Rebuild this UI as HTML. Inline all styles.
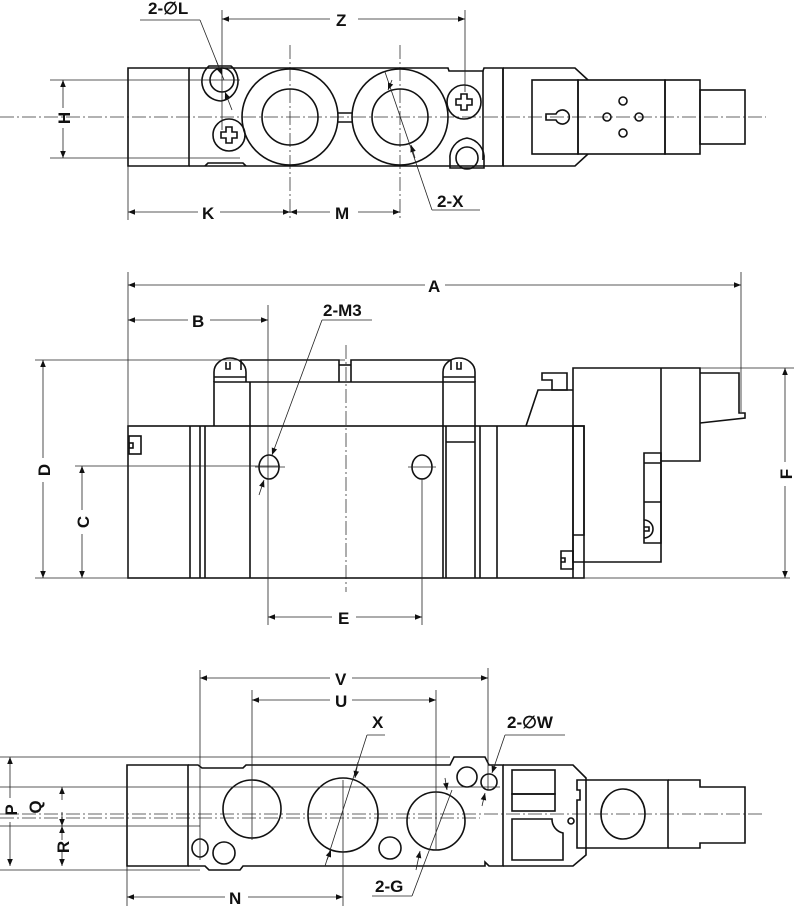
<!DOCTYPE html>
<html><head><meta charset="utf-8"><style>
html,body{margin:0;padding:0;background:#fff}
svg{display:block}
text{font-family:"Liberation Sans",sans-serif;font-weight:bold;font-size:17px;fill:#111}
.o{fill:none;stroke:#111;stroke-width:1.6}
.t{fill:none;stroke:#222;stroke-width:0.8}
.c{fill:none;stroke:#333;stroke-width:0.8;stroke-dasharray:14 3 2 3}
</style></head><body>
<svg width="794" height="906" viewBox="0 0 794 906" xmlns="http://www.w3.org/2000/svg">
<defs>
<marker id="a" viewBox="0 0 10 10" refX="10" refY="5" markerWidth="9" markerHeight="7" orient="auto-start-reverse" markerUnits="userSpaceOnUse"><path d="M0,1 L10,5 L0,9 z" fill="#111"/></marker>
</defs>

<!-- ===== TOP VIEW ===== -->
<line class="c" x1="0" y1="117" x2="766" y2="117"/>
<line class="c" x1="290" y1="45" x2="290" y2="220"/>
<line class="c" x1="400" y1="45" x2="400" y2="220"/>
<path class="o" d="M128,68 H189 V166 H128 Z"/>
<path class="o" d="M189,68 H448 L449,71 H483 L484,68 H503 V166 H189"/>
<path class="o" d="M205,166 l3,-3 h35 l3,3"/>
<path class="o" d="M483,71 V160"/>
<line class="o" x1="503" y1="68" x2="503" y2="166"/>
<path class="o" d="M503,68 H575 L588,80 M503,166 H575 L588,154"/>
<rect class="o" x="532" y="80" width="46" height="74"/>
<rect class="o" x="578" y="80" width="87" height="74"/>
<rect class="o" x="665" y="80" width="35" height="74"/>
<rect class="o" x="700" y="90" width="45" height="54"/>
<circle class="o" cx="290" cy="117" r="48"/><circle class="o" cx="290" cy="117" r="28"/>
<circle class="o" cx="400" cy="117" r="48"/><circle class="o" cx="400" cy="117" r="28"/>
<path class="o" d="M338,113 H352 M338,122 H352"/>
<!-- ears -->
<path class="o" d="M205,92 a20,20 0 0 1 4,-26 h22 a20,20 0 0 1 -10,35 a20,20 0 0 1 -16,-9 z" fill="#fff"/>
<circle class="o" cx="222" cy="80" r="12"/>
<path class="o" d="M450,160 a20,20 0 0 1 17,-22 a20,20 0 0 1 17,22 v8 h-34 z" fill="#fff"/>
<circle class="o" cx="467" cy="158" r="11"/>
<!-- screws -->
<circle class="o" cx="229" cy="135" r="16"/>
<path class="o" d="M226,127 h6 v5 h5 v6 h-5 v5 h-6 v-5 h-5 v-6 h5 z"/>
<circle class="o" cx="464" cy="102" r="17"/>
<path class="o" d="M461,94 h6 v5 h5 v6 h-5 v5 h-6 v-5 h-5 v-6 h5 z"/>
<!-- keyhole & small circles -->
<path class="o" d="M556,114 a7,7 0 1 1 0,6 H546 V114 Z"/>
<circle class="o" cx="623" cy="101" r="4"/><circle class="o" cx="607" cy="117" r="4"/><circle class="o" cx="639" cy="117" r="4"/><circle class="o" cx="623" cy="133" r="4"/>
<!-- dims top -->
<line class="t" x1="222" y1="10" x2="222" y2="130"/>
<line class="t" x1="465" y1="10" x2="465" y2="92"/>
<line class="t" x1="222" y1="19" x2="330" y2="19" marker-start="url(#a)"/>
<line class="t" x1="358" y1="19" x2="465" y2="19" marker-end="url(#a)"/>
<text x="336" y="26">Z</text>
<text x="148" y="14">2-∅L</text>
<line class="t" x1="140" y1="20" x2="200" y2="20"/>
<line class="t" x1="200" y1="20" x2="224" y2="80" />
<line class="t" x1="216" y1="60" x2="222" y2="75" marker-end="url(#a)"/>
<line class="t" x1="232" y1="110" x2="225" y2="92" marker-end="url(#a)"/>
<line class="t" x1="50" y1="80" x2="240" y2="80"/>
<line class="t" x1="50" y1="158" x2="240" y2="158"/>
<line class="t" x1="63" y1="80" x2="63" y2="108" marker-start="url(#a)"/>
<line class="t" x1="63" y1="128" x2="63" y2="158" marker-end="url(#a)"/>
<text transform="translate(70,118) rotate(-90)" text-anchor="middle">H</text>
<line class="t" x1="128" y1="166" x2="128" y2="220"/>
<line class="t" x1="128" y1="212" x2="198" y2="212" marker-start="url(#a)"/>
<line class="t" x1="220" y1="212" x2="290" y2="212" marker-end="url(#a)"/>
<text x="202" y="219">K</text>
<line class="t" x1="290" y1="212" x2="330" y2="212" marker-start="url(#a)"/>
<line class="t" x1="358" y1="212" x2="400" y2="212" marker-end="url(#a)"/>
<text x="335" y="219">M</text>
<text x="437" y="207">2-X</text>
<line class="t" x1="432" y1="210" x2="480" y2="210"/>
<line class="t" x1="432" y1="210" x2="385" y2="72"/>
<line class="t" x1="392" y1="80" x2="388" y2="90" marker-end="url(#a)"/>
<line class="t" x1="415" y1="158" x2="411" y2="145" marker-end="url(#a)"/>

<!-- ===== SIDE VIEW ===== -->
<line class="c" x1="346" y1="345" x2="346" y2="592"/>
<rect class="o" x="128" y="426" width="456" height="152"/>
<path class="o" d="M190,426V578 M200,426V578 M205,426V578 M250,382V578 M443,382V578 M446,426V578 M475,426V578 M480,426V578 M497,426V578 M573,426V578"/>
<path class="o" d="M446,442 H475"/>
<rect class="o" x="129" y="436" width="12" height="18"/><rect class="o" x="129" y="443" width="4" height="5"/>
<path class="o" d="M214,426 V382 H475 V426"/>
<path class="o" d="M214,382 V372 a16,14 0 0 1 32,0 V382 M214,377 H246"/>
<path class="o" d="M226,362 v7 h4 v-7"/>
<path class="o" d="M443,382 V372 a16,14 0 0 1 32,0 V382 M443,377 H475"/>
<path class="o" d="M457,362 v7 h4 v-7"/>
<path class="o" d="M241,370 V360 H339 V382 M351,382 V360 H451 V370"/>
<path class="o" d="M339,365 H351"/>
<ellipse class="o" cx="269" cy="467" rx="10" ry="12"/>
<ellipse class="o" cx="422" cy="467" rx="10" ry="12"/>
<line class="t" x1="255" y1="467" x2="285" y2="467"/><line class="t" x1="408" y1="467" x2="436" y2="467"/>
<!-- solenoid side -->
<path class="o" d="M573,368 H700 V461 H661 V562 H573 Z" fill="#fff"/>
<line class="o" x1="661" y1="368" x2="661" y2="461"/>
<path class="o" d="M700,373 H739 V413 H745 V418 L700,423"/>
<path class="o" d="M542,373 H567 V390 H552 V380 H542 Z"/>
<path class="o" d="M526,426 L538,390 H573"/>
<path class="o" d="M573,426 H584 V535 H573"/>
<path class="o" d="M644,453 H661 V543 H644 Z M644,463 H661 M644,502 H661"/>
<path class="o" d="M644,520 a9,9 0 0 1 0,18 M644,527 h5 v4 h-5"/>
<path class="o" d="M561,551 H573 V569 H561 Z M561,558 h4 v4 h-4"/>
<!-- side dims -->
<line class="t" x1="128" y1="272" x2="128" y2="578"/>
<line class="t" x1="741" y1="272" x2="741" y2="412"/>
<line class="t" x1="128" y1="285" x2="425" y2="285" marker-start="url(#a)"/>
<line class="t" x1="445" y1="285" x2="741" y2="285" marker-end="url(#a)"/>
<text x="428" y="292">A</text>
<line class="t" x1="268" y1="305" x2="268" y2="625"/>
<line class="t" x1="128" y1="320" x2="188" y2="320" marker-start="url(#a)"/>
<line class="t" x1="210" y1="320" x2="268" y2="320" marker-end="url(#a)"/>
<text x="192" y="327">B</text>
<text x="323" y="316">2-M3</text>
<line class="t" x1="322" y1="320" x2="372" y2="320"/>
<line class="t" x1="322" y1="320" x2="272" y2="455" marker-end="url(#a)"/>
<line class="t" x1="259" y1="495" x2="264" y2="480" marker-end="url(#a)"/>
<line class="t" x1="35" y1="360" x2="345" y2="360"/>
<line class="t" x1="35" y1="578" x2="790" y2="578"/>
<line class="t" x1="43" y1="360" x2="43" y2="458" marker-start="url(#a)"/>
<line class="t" x1="43" y1="482" x2="43" y2="578" marker-end="url(#a)"/>
<text transform="translate(50,470) rotate(-90)" text-anchor="middle">D</text>
<line class="t" x1="75" y1="466" x2="280" y2="466"/>
<line class="t" x1="82" y1="466" x2="82" y2="510" marker-start="url(#a)"/>
<line class="t" x1="82" y1="534" x2="82" y2="578" marker-end="url(#a)"/>
<text transform="translate(89,522) rotate(-90)" text-anchor="middle">C</text>
<line class="t" x1="422" y1="478" x2="422" y2="625"/>
<line class="t" x1="268" y1="617" x2="332" y2="617" marker-start="url(#a)"/>
<line class="t" x1="356" y1="617" x2="422" y2="617" marker-end="url(#a)"/>
<text x="338" y="624">E</text>
<line class="t" x1="700" y1="368" x2="795" y2="368"/>
<line class="t" x1="785" y1="368" x2="785" y2="462" marker-start="url(#a)"/>
<line class="t" x1="785" y1="486" x2="785" y2="578" marker-end="url(#a)"/>
<text transform="translate(792,474) rotate(-90)" text-anchor="middle">F</text>

<!-- ===== BOTTOM VIEW ===== -->
<line class="c" x1="0" y1="814" x2="764" y2="814"/>
<line class="c" x1="0" y1="818" x2="480" y2="818"/>
<path class="o" d="M127,765 H188 V866 H127 Z"/>
<path class="o" d="M188,765 H198 L202,768 H243 L246,765 H450 L454,757 H485 L489,765 H503 V866 H489 L485,862 V866 H443 M443,866 H243 L240,870 H209 L205,866 H188"/>
<path class="o" d="M503,765 H573 L586,778 V855 L573,866 H503"/>
<rect class="o" x="512" y="770" width="43" height="24"/>
<rect class="o" x="512" y="794" width="43" height="17"/>
<path class="o" d="M512,819 H552 a14,14 0 0 0 11,14 V860 H512 Z"/>
<circle class="o" cx="571" cy="821" r="3"/>
<path class="o" d="M577,780 H668 V848 H577 V800 H580 V790 H577 Z"/>
<path class="o" d="M668,780 H700 V787 H745 V843 H700 V848 H668"/>
<ellipse class="o" cx="623" cy="814" rx="22" ry="25"/>
<circle class="o" cx="252" cy="809" r="29"/>
<ellipse class="o" cx="343" cy="815" rx="35" ry="37"/>
<ellipse class="o" cx="436" cy="821" rx="29" ry="29"/>
<ellipse class="o" cx="200" cy="848" rx="8" ry="9"/>
<circle class="o" cx="224" cy="853" r="11"/>
<circle class="o" cx="390" cy="848" r="11"/>
<circle class="o" cx="467" cy="777" r="10"/>
<circle class="o" cx="489" cy="782" r="8"/>
<line class="t" x1="0" y1="787" x2="500" y2="787"/>
<line class="t" x1="0" y1="826" x2="200" y2="826"/>
<line class="t" x1="0" y1="757" x2="450" y2="757"/>
<line class="t" x1="0" y1="870" x2="200" y2="870"/>
<line class="t" x1="252" y1="690" x2="252" y2="840"/>
<line class="t" x1="436" y1="690" x2="436" y2="850"/>
<line class="t" x1="200" y1="670" x2="200" y2="860"/>
<line class="t" x1="488" y1="668" x2="488" y2="790"/>
<line class="t" x1="343" y1="780" x2="343" y2="906"/>
<line class="t" x1="127" y1="866" x2="127" y2="906"/>
<line class="t" x1="200" y1="678" x2="330" y2="678" marker-start="url(#a)"/>
<line class="t" x1="352" y1="678" x2="488" y2="678" marker-end="url(#a)"/>
<text x="335" y="685">V</text>
<line class="t" x1="252" y1="700" x2="330" y2="700" marker-start="url(#a)"/>
<line class="t" x1="352" y1="700" x2="436" y2="700" marker-end="url(#a)"/>
<text x="335" y="707">U</text>
<line class="t" x1="127" y1="897" x2="225" y2="897" marker-start="url(#a)"/>
<line class="t" x1="248" y1="897" x2="343" y2="897" marker-end="url(#a)"/>
<text x="229" y="904">N</text>
<text x="372" y="728">X</text>
<line class="t" x1="367" y1="735" x2="385" y2="735"/>
<line class="t" x1="367" y1="735" x2="325" y2="866"/>
<line class="t" x1="358" y1="762" x2="355" y2="778" marker-end="url(#a)"/>
<line class="t" x1="327" y1="860" x2="331" y2="850" marker-end="url(#a)"/>
<text x="507" y="728">2-∅W</text>
<line class="t" x1="505" y1="735" x2="565" y2="735"/>
<line class="t" x1="505" y1="735" x2="492" y2="773" marker-end="url(#a)"/>
<line class="t" x1="482" y1="806" x2="485" y2="793" marker-end="url(#a)"/>
<text x="375" y="892">2-G</text>
<line class="t" x1="372" y1="896" x2="412" y2="896"/>
<line class="t" x1="412" y1="896" x2="452" y2="790"/>
<line class="t" x1="445" y1="778" x2="447" y2="790" marker-end="url(#a)"/>
<line class="t" x1="416" y1="870" x2="420" y2="851" marker-end="url(#a)"/>
<line class="t" x1="10" y1="757" x2="10" y2="798" marker-start="url(#a)"/>
<line class="t" x1="10" y1="822" x2="10" y2="866" marker-end="url(#a)"/>
<text transform="translate(17,810) rotate(-90)" text-anchor="middle">P</text>
<line class="t" x1="62" y1="787" x2="62" y2="800" marker-start="url(#a)"/>
<line class="t" x1="62" y1="826" x2="62" y2="812" marker-start="url(#a)"/>
<text transform="translate(41,807) rotate(-90)" text-anchor="middle">Q</text>
<line class="t" x1="62" y1="826" x2="62" y2="840" marker-start="url(#a)"/>
<line class="t" x1="62" y1="866" x2="62" y2="852" marker-start="url(#a)"/>
<text transform="translate(69,847) rotate(-90)" text-anchor="middle">R</text>
</svg>
</body></html>
